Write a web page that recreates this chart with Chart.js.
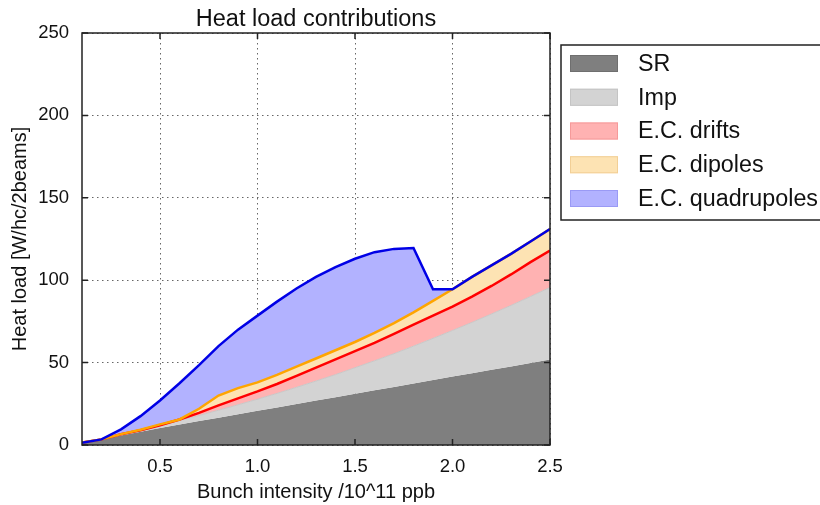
<!DOCTYPE html>
<html>
<head>
<meta charset="utf-8">
<script src="https://cdn.jsdelivr.net/npm/chart.js@4.4.1/dist/chart.umd.min.js"></script>
<style>
  html, body { margin: 0; padding: 0; background: #fff; }
</style>
</head>
<body>
<canvas id="heatChart" width="820" height="505"></canvas>
<script>
// bunch intensity [1e11 ppb]
const intensity = [0.1, 0.2, 0.3, 0.4, 0.5, 0.6, 0.7, 0.8, 0.9, 1.0, 1.1, 1.2, 1.3,
                   1.4, 1.5, 1.6, 1.7, 1.8, 1.9, 2.0, 2.1, 2.2, 2.3, 2.4, 2.5];
// cumulative heat load (top of each band), W/hc/2beams
const srTop     = [1.4, 3.3, 5.8, 8.0, 10.3, 12.4, 14.5, 16.6, 18.7, 20.8, 22.8, 24.9, 27.0,
                   29.0, 31.1, 33.2, 35.2, 37.3, 39.4, 41.5, 43.5, 45.6, 47.7, 49.8, 51.9];
const impTop    = [1.5, 3.4, 6.4, 9.1, 12.1, 14.9, 17.9, 21.1, 24.4, 27.8, 31.3, 35.0, 38.8,
                   42.7, 46.9, 51.1, 55.4, 60.0, 64.7, 69.5, 74.4, 79.5, 84.7, 90.1, 95.6];
const driftTop  = [1.5, 3.4, 6.5, 9.0, 12.0, 15.5, 19.5, 24.0, 28.3, 32.5, 37.0, 42.0, 47.0,
                   52.0, 57.0, 62.0, 67.5, 73.0, 78.5, 84.0, 90.0, 96.5, 103.5, 111.0, 118.0];
const dipoleTop = [1.5, 3.4, 6.6, 9.3, 12.5, 15.5, 22.0, 30.0, 34.5, 38.0, 42.5, 47.5, 52.5,
                   57.5, 62.5, 68.0, 74.0, 80.5, 87.5, 94.5, 102.0, 109.0, 116.0, 123.5, 131.0];
const quadTop   = [1.4, 3.4, 9.5, 17.5, 27.0, 37.5, 48.5, 60.0, 70.0, 78.5, 87.0, 95.0, 102.0,
                   108.0, 113.0, 117.0, 119.0, 119.5, 94.5, 94.5, 102.0, 109.0, 116.0, 123.5, 131.0];

const xTicks = [0.5, 1.0, 1.5, 2.0, 2.5];
const seriesNames = ['SR', 'Imp', 'E.C. drifts', 'E.C. dipoles', 'E.C. quadrupoles'];

const FONT = 'Liberation Sans, Arial, Helvetica, sans-serif';

var pts = function(arr) {
  return arr.map(function(v, i) { return { x: intensity[i], y: v }; });
};

// band styles
const fills   = ['#7f7f7f', '#d3d3d3', '#ffb2b2', '#fde3b3', '#b2b2ff'];
const edges   = ['#7f7f7f', '#c8c8c8', '#ff0000', '#ffa500', '#0000e6'];
const widths  = [0, 1, 2.5, 2.5, 2.5];
const swEdge  = ['#6f6f6f', '#c4c4c4', '#f59a9a', '#f2cf96', '#9a9af5'];

const tops = [srTop, impTop, driftTop, dipoleTop, quadTop];
const datasets = tops.map(function(arr, i) {
  return {
    label: seriesNames[i],
    data: pts(arr),
    backgroundColor: fills[i],
    borderColor: edges[i],
    borderWidth: widths[i],
    fill: i === 0 ? 'origin' : '-1',
    pointRadius: 0,
    tension: 0,
    order: 4 - i
  };
});

// frame + inward ticks around the plot area
var frameBox = {
  id: 'frameBox',
  afterDraw(chart) {
    const { ctx, chartArea: { left, right, top, bottom } } = chart;
    const xs = chart.scales.x, ys = chart.scales.y;
    ctx.save();
    ctx.strokeStyle = '#222';
    ctx.lineWidth = 1.5;
    ctx.beginPath();
    xs.ticks.forEach(function(t) {
      const px = xs.getPixelForValue(t.value);
      ctx.moveTo(px, bottom); ctx.lineTo(px, bottom - 6);
      ctx.moveTo(px, top); ctx.lineTo(px, top + 6);
    });
    ys.ticks.forEach(function(t) {
      const py = ys.getPixelForValue(t.value);
      ctx.moveTo(left, py); ctx.lineTo(left + 6, py);
      ctx.moveTo(right, py); ctx.lineTo(right - 6, py);
    });
    ctx.stroke();
    ctx.strokeRect(left, top, right - left, bottom - top);
    ctx.restore();
  }
};

// boxed legend to the right of the axes
var boxLegend = {
  id: 'boxLegend',
  afterDraw(chart) {
    const ctx = chart.ctx;
    ctx.save();
    ctx.strokeStyle = '#222';
    ctx.lineWidth = 1.5;
    ctx.strokeRect(561, 45, 270, 175);
    ctx.font = '23.3px ' + FONT;
    ctx.textBaseline = 'middle';
    chart.data.datasets.forEach(function(ds, i) {
      const cy = 63.5 + i * 33.75;
      ctx.fillStyle = fills[i];
      ctx.fillRect(570, cy - 8.5, 48, 17);
      ctx.strokeStyle = swEdge[i];
      ctx.lineWidth = 1;
      ctx.strokeRect(570.5, cy - 8, 47, 16);
      ctx.fillStyle = '#111';
      ctx.fillText(ds.label, 638, cy + 1);
    });
    ctx.restore();
  }
};

new Chart(document.getElementById('heatChart'), {
  type: 'line',
  data: { datasets: datasets },
  options: {
    responsive: false,
    animation: false,
    layout: { padding: { left: 0, right: 270, top: 0, bottom: 0 } },
    plugins: {
      legend: { display: false },
      tooltip: { enabled: false },
      filler: { drawTime: 'beforeDatasetsDraw', propagate: false },
      title: {
        display: true,
        text: 'Heat load contributions',
        fullSize: false,
        color: '#111',
        font: { family: FONT, size: 23.5, weight: 'normal' },
        padding: { top: 5.5, bottom: -0.7 }
      }
    },
    scales: {
      x: {
        type: 'linear',
        min: 0.1,
        max: 2.5,
        z: 1,
        afterBuildTicks: function(scale) {
          scale.ticks = xTicks.map(function(v) { return { value: v }; });
        },
        afterFit: function(scale) { scale.height = 60; },
        grid: { color: '#666', lineWidth: 1, drawTicks: false },
        border: { display: false, dash: [1.5, 3.5] },
        ticks: {
          color: '#111',
          padding: 10.5,
          maxRotation: 0,
          font: { family: FONT, size: 18.5 },
          callback: function(v) { return Number(v).toFixed(1); }
        },
        title: {
          display: true,
          text: 'Bunch intensity /10^11 ppb',
          color: '#111',
          font: { family: FONT, size: 20 },
          padding: { top: 0, bottom: 1 }
        }
      },
      y: {
        min: 0,
        max: 250,
        z: 1,
        afterFit: function(scale) { scale.width = 82; },
        grid: { color: '#666', lineWidth: 1, drawTicks: false },
        border: { display: false, dash: [1.5, 3.5] },
        ticks: {
          stepSize: 50,
          color: '#111',
          padding: 13,
          font: { family: FONT, size: 18.5 }
        },
        title: {
          display: true,
          text: 'Heat load [W/hc/2beams]',
          color: '#111',
          font: { family: FONT, size: 20 },
          padding: { top: 8, bottom: 0 }
        }
      }
    }
  },
  plugins: [frameBox, boxLegend]
});
</script>
</body>
</html>
